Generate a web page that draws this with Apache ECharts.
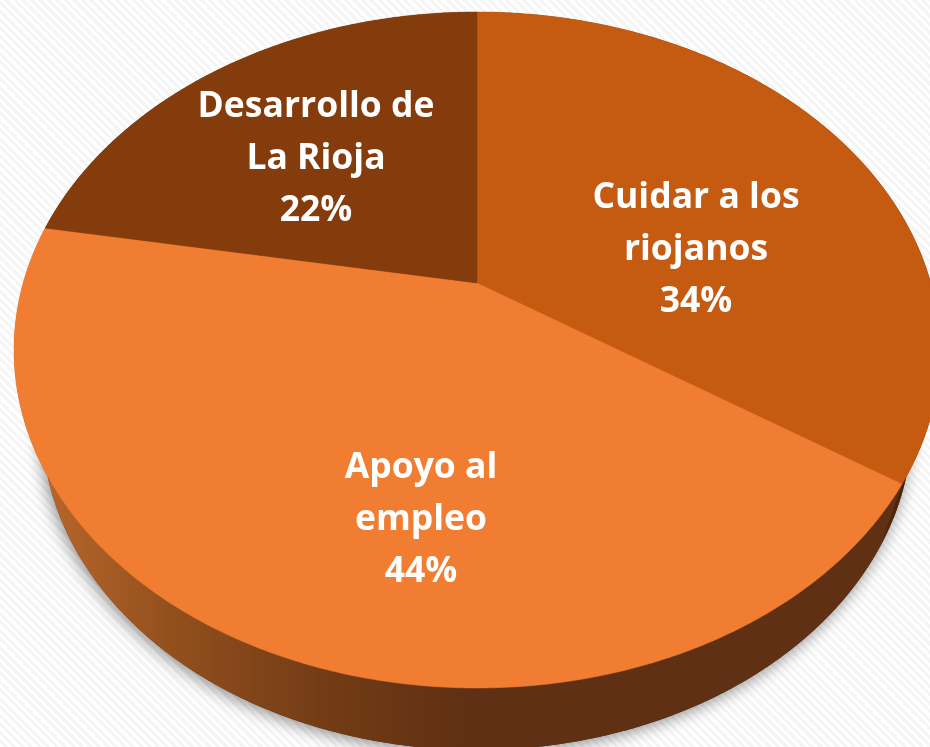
<!DOCTYPE html>
<html>
<head>
<meta charset="utf-8">
<title>Reparto</title>
<script src="https://cdn.jsdelivr.net/npm/echarts@6/dist/echarts.min.js"></script>
<style>
html,body{margin:0;padding:0;overflow:hidden}
body{background:repeating-linear-gradient(45deg,#fff 0,#fff 3px,#f5f5f5 3px,#f5f5f5 6px)}
#main{width:930px;height:747px}
</style>
</head>
<body>
<div id="main"></div>
<script>
// slices run clockwise from 12 o'clock, labels show the rounded share
var categories = ['Cuidar a los\nriojanos', 'Apoyo al\nempleo', 'Desarrollo de\nLa Rioja'];
var shares = [34.3, 43.5, 22.2];
var topColors = ['#C55A11', '#F07D31', '#843C0C'];

// tilted disc: ellipse + where the pie centre lands after perspective
var topDisc = makeDisc(477, 350, 463, 338, 283);
var baseDisc = makeDisc(477, 424, 435, 326, 352);
var labelSpots = [[696, 249.5], [421, 519.5], [316, 159]];

function makeDisc(cx, cy, a, b, centerY) {
    var top = cy - b, bottom = cy + b;
    var k = (top + bottom - 2 * centerY) / (top - bottom);
    var q = bottom * (1 + k) - centerY;
    var rx = a * Math.sqrt(1 - Math.pow((centerY - cy) / b, 2));
    return function (deg) {
        var t = deg * Math.PI / 180;
        var y = -Math.cos(t), d = 1 + k * y;
        return [cx + rx * Math.sin(t) / d, (centerY + q * y) / d];
    };
}
function arc(disc, from, to) {
    var pts = [];
    for (var d = from; d < to; d += 0.5) pts.push(disc(d));
    pts.push(disc(to));
    return pts;
}
function sliceRange(i) {
    var sum = 0, total = 0;
    for (var j = 0; j < shares.length; j++) {
        if (j < i) sum += shares[j];
        total += shares[j];
    }
    return [sum / total * 360, (sum + shares[i]) / total * 360];
}

var wallFill = new echarts.graphic.LinearGradient(40, 0, 470, 0, [
    {offset: 0, color: '#B9672C'},
    {offset: 0.3, color: '#93501D'},
    {offset: 0.65, color: '#743C16'},
    {offset: 1, color: '#5F3013'}
], true);
var wallColors = ['#4E2608', wallFill, '#4E2608'];

var myChart = echarts.init(document.getElementById('main'), null, {renderer: 'canvas'});
var option = {
    animation: false,
    backgroundColor: 'transparent',
    series: [
        {
            // soft shadow only under the base of the disc
            type: 'custom', coordinateSystem: 'none', silent: true,
            data: [0],
            renderItem: function () {
                return {
                    type: 'polygon',
                    shape: {points: arc(baseDisc, 0, 360)},
                    style: {fill: '#5F3013', shadowBlur: 16, shadowColor: 'rgba(0,0,0,0.45)', shadowOffsetX: -2, shadowOffsetY: 3}
                };
            }
        },
        {
            type: 'custom', coordinateSystem: 'none', silent: true,
            data: shares,
            renderItem: function (params) {
                var r = sliceRange(params.dataIndex);
                var pts = arc(topDisc, r[0], r[1]).concat(arc(baseDisc, r[0], r[1]).reverse());
                return {type: 'polygon', shape: {points: pts}, style: {fill: wallColors[params.dataIndex]}};
            }
        },
        {
            type: 'custom', coordinateSystem: 'none', silent: true,
            data: shares,
            renderItem: function (params) {
                var i = params.dataIndex, r = sliceRange(i);
                var centre = [477, 283];
                return {
                    type: 'polygon',
                    shape: {points: [centre].concat(arc(topDisc, r[0], r[1]))},
                    style: {fill: topColors[i], stroke: topColors[i], lineWidth: 0.5}
                };
            }
        },
        {
            type: 'custom', coordinateSystem: 'none', silent: true,
            data: shares,
            z: 5,
            renderItem: function (params) {
                var i = params.dataIndex;
                return {
                    type: 'text',
                    x: labelSpots[i][0],
                    y: labelSpots[i][1],
                    style: {
                        text: categories[i] + '\n' + Math.round(shares[i]) + '%',
                        fill: '#fff',
                        font: 'bold 35.5px "Open Sans"',
                        lineHeight: 52,
                        align: 'center',
                        verticalAlign: 'middle'
                    }
                };
            }
        }
    ]
};
myChart.setOption(option);
</script>
</body>
</html>
